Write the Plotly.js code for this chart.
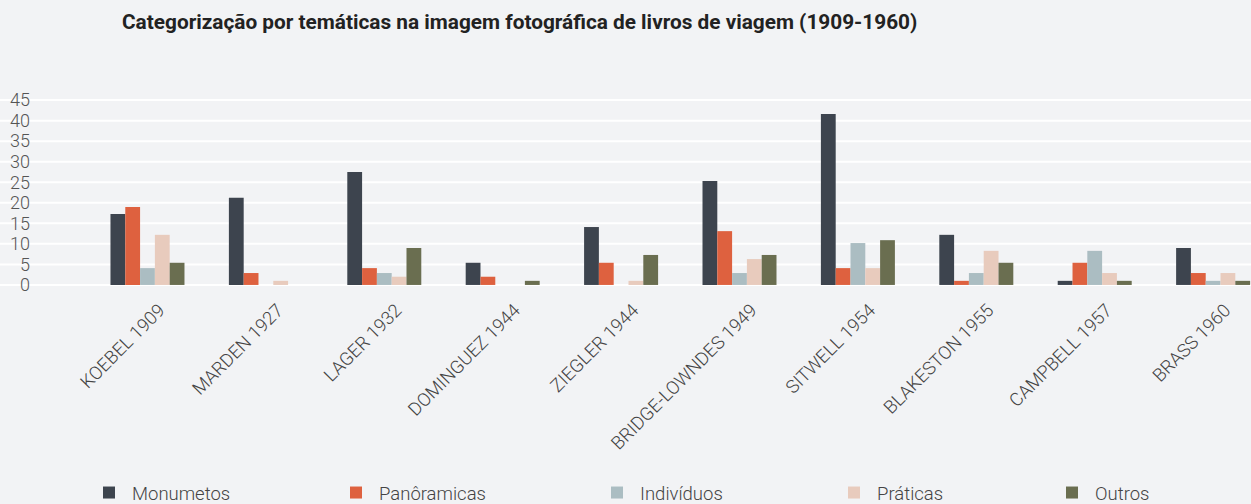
<!DOCTYPE html>
<html>
<head>
<meta charset="utf-8">
<script src="https://cdn.plot.ly/plotly-3.0.1.min.js"></script>
<style>html,body{margin:0;padding:0;background:#f2f3f5;}#chart{width:1251px;height:504px;}</style>
</head>
<body>
<div id="chart"></div>
<script>
var categories = ["KOEBEL 1909","MARDEN 1927","LAGER 1932","DOMINGUEZ 1944","ZIEGLER 1944","BRIDGE-LOWNDES 1949","SITWELL 1954","BLAKESTON 1955","CAMPBELL 1957","BRASS 1960"];
var seriesNames = ["Monumetos","Panôramicas","Indivíduos","Práticas","Outros"];
var monumetos   = [17.3, 21.2, 27.5, 5.4, 14.1, 25.3, 41.6, 12.2, 1, 9];
var panoramicas = [19, 2.9, 4.1, 2, 5.4, 13.1, 4.1, 1, 5.4, 2.9];
var individuos  = [4.1, 0, 2.9, 0, 0, 2.9, 10.2, 2.9, 8.3, 1];
var praticas    = [12.2, 1, 2, 0, 1, 6.3, 4.1, 8.3, 2.9, 2.9];
var outros      = [5.4, 0, 9, 1, 7.3, 7.3, 10.9, 5.4, 1, 1];
var yTicks = [0,5,10,15,20,25,30,35,40,45];

var colors = ["#3d444e","#de613f","#abbdc2","#e8cbbd","#6a6e50"];
var values = [monumetos, panoramicas, individuos, praticas, outros];
var legendX = [103, 350, 611, 848, 1066];
var legendKeys = ["legend","legend2","legend3","legend4","legend5"];

var traces = values.map(function(v,i){
  return {type:'bar', x:categories, y:v, name:seriesNames[i], marker:{color:colors[i]}, legend:legendKeys[i], hoverinfo:'x+y+name'};
});

var L = 35, W = 1251, H = 504;
var layout = {
  width:W, height:H,
  paper_bgcolor:'#f2f3f5', plot_bgcolor:'#f2f3f5',
  margin:{l:L, r:0, t:96, b:217},
  barmode:'group', bargap:0.375, bargroupgap:0,
  font:{family:'Roboto, sans-serif', color:'#444'},
  title:{text:'Categorização por temáticas na imagem fotográfica de livros de viagem (1909-1960)', x:122/W, xanchor:'left', xref:'container', y:1-22/H, yanchor:'middle', yref:'container', font:{family:'Roboto, sans-serif', size:20.8, color:'#222', weight:'bold'}},
  xaxis:{type:'category', range:[-0.95, 9.32], tickangle:-45, tickfont:{size:18.3, color:'#444', family:'Roboto, sans-serif', weight:300}, showgrid:false, zeroline:false, showline:false, ticks:'', ticklabelshift:12, ticklabelstandoff:8},
  yaxis:{range:[-0.5, 46], tickvals:yTicks, ticktext:yTicks.map(String), tickfont:{size:18, color:'#555', family:'Roboto, sans-serif', weight:300}, showgrid:false, zeroline:false, showline:false, ticks:'', ticklabelstandoff:4},
  shapes: yTicks.map(function(t){ return {type:'line', xref:'paper', yref:'y', x0:-L/(W-L), x1:1, y0:t, y1:t, line:{color:'#ffffff', width:2}, layer:'below'}; }),
  showlegend:true
};
legendKeys.forEach(function(k,i){
  layout[k] = {orientation:'h', xref:'container', yref:'container', x:(legendX[i]-17)/W, xanchor:'left', y:1-493/H, yanchor:'middle', itemwidth:36, bgcolor:'rgba(0,0,0,0)', font:{size:18.5, color:'#444', family:'Roboto, sans-serif', weight:300}};
});
Plotly.newPlot('chart', traces, layout, {displayModeBar:false});
</script>
</body>
</html>
